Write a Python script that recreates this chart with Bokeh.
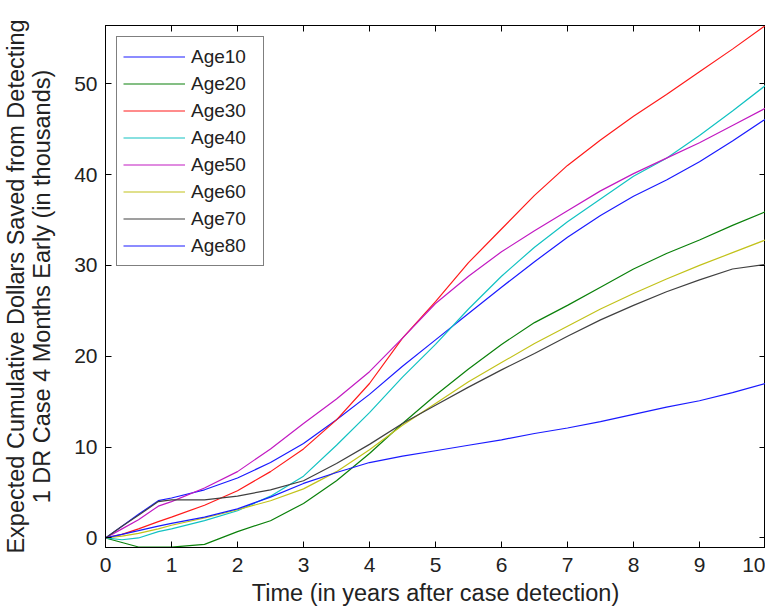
from bokeh.plotting import figure
from bokeh.models import Range1d, LinearAxis, FixedTicker, Legend, LegendItem
from bokeh.embed import file_html
from bokeh.resources import INLINE

# ---- data ----
t = [0, 0.25, 0.5, 0.8, 1, 1.5, 2, 2.5, 3, 3.5, 4, 4.5, 5, 5.5, 6, 6.5, 7, 7.5, 8, 8.5, 9, 9.5, 10]

age10 = [0, 1.3, 2.6, 4.1, 4.4, 5.3, 6.6, 8.3, 10.4, 13.0, 15.8, 18.9, 21.8, 24.7, 27.6, 30.4, 33.1, 35.5, 37.6, 39.4, 41.4, 43.7, 46.1]
age20 = [0, -0.5, -1.0, -1.0, -1.0, -0.7, 0.7, 1.9, 3.8, 6.3, 9.3, 12.6, 15.7, 18.6, 21.3, 23.7, 25.6, 27.6, 29.6, 31.3, 32.8, 34.4, 35.9]
age30 = [0, 0.4, 1.0, 1.8, 2.3, 3.6, 5.2, 7.3, 9.8, 13.0, 17.0, 22.0, 26.0, 30.3, 34.0, 37.7, 41.0, 43.8, 46.4, 48.8, 51.3, 53.8, 56.4]
age40 = [0, -0.2, 0.0, 0.7, 1.0, 1.9, 3.0, 4.6, 6.8, 10.2, 13.8, 17.7, 21.3, 25.2, 28.8, 32.0, 34.8, 37.3, 39.8, 41.8, 44.3, 47.0, 49.8]
age50 = [0, 1.0, 2.0, 3.5, 4.0, 5.5, 7.3, 9.8, 12.6, 15.3, 18.3, 22.0, 25.8, 28.8, 31.5, 33.8, 36.0, 38.2, 40.1, 41.8, 43.5, 45.4, 47.3]
age60 = [0, 0.2, 0.5, 1.0, 1.4, 2.2, 3.1, 4.1, 5.4, 7.3, 9.7, 12.4, 14.8, 17.2, 19.3, 21.4, 23.3, 25.2, 26.9, 28.5, 30.0, 31.4, 32.8]
age70 = [0, 1.3, 2.5, 4.0, 4.2, 4.2, 4.6, 5.3, 6.3, 8.2, 10.3, 12.6, 14.6, 16.6, 18.5, 20.3, 22.2, 24.0, 25.6, 27.1, 28.4, 29.6, 30.1]
age80 = [0, 0.4, 0.8, 1.3, 1.6, 2.3, 3.2, 4.5, 6.0, 7.2, 8.3, 9.0, 9.6, 10.2, 10.8, 11.5, 12.1, 12.8, 13.6, 14.4, 15.1, 16.0, 17.0]

series_names = ["Age10", "Age20", "Age30", "Age40", "Age50", "Age60", "Age70", "Age80"]
series_values = [age10, age20, age30, age40, age50, age60, age70, age80]
series_colors = ["#1a1aff", "#0a800a", "#ff1a1a", "#12c2c2", "#c21ac2", "#c2c21a", "#404040", "#1a1aff"]

x_ticks = [0, 1, 2, 3, 4, 5, 6, 7, 8, 9, 10]
y_ticks = [0, 10, 20, 30, 40, 50]

FONT = "Liberation Sans"
TXT = "#222222"

p = figure(width=765, height=608,
           x_range=Range1d(0, 10), y_range=Range1d(-1.05, 56.4),
           output_backend="svg", toolbar_location=None,
           min_border_left=100, min_border_right=0,
           min_border_top=25, min_border_bottom=61,
           x_axis_label="Time (in years after case detection)",
           y_axis_label="Expected Cumulative Dollars Saved from Detecting\n1 DR Case 4 Months Early (in thousands)")

p.xgrid.visible = False
p.ygrid.visible = False
p.outline_line_color = "black"
p.outline_line_width = 1
p.background_fill_color = "white"
p.border_fill_color = "white"

for ax, ticks in ((p.xaxis[0], x_ticks), (p.yaxis[0], y_ticks)):
    ax.ticker = FixedTicker(ticks=ticks)
    ax.minor_tick_line_color = None
    ax.major_tick_in = 6
    ax.major_tick_out = 0
    ax.axis_line_color = "black"
    ax.major_tick_line_color = "black"
    ax.major_label_text_font = FONT
    ax.major_label_text_font_size = "21px"
    ax.major_label_text_color = TXT
    ax.axis_label_text_font = FONT
    ax.axis_label_text_font_size = "23.5px"
    ax.axis_label_text_font_style = "normal"
    ax.axis_label_text_color = TXT

p.xaxis[0].major_label_standoff = 10
p.xaxis[0].axis_label_standoff = 5
p.yaxis[0].major_label_standoff = 8
p.yaxis[0].axis_label_standoff = 16
p.yaxis[0].axis_label_text_line_height = 1.0

# mirrored ticks on top and right (box on)
top = LinearAxis(ticker=FixedTicker(ticks=x_ticks))
right = LinearAxis(ticker=FixedTicker(ticks=y_ticks))
for ax in (top, right):
    ax.major_tick_in = 6
    ax.major_tick_out = 0
    ax.minor_tick_line_color = None
    ax.major_label_text_font_size = "0px"
    ax.major_label_standoff = 0
    ax.axis_line_color = "black"
    ax.major_tick_line_color = "black"
p.add_layout(top, "above")
p.add_layout(right, "right")

items = []
for name, vals, col in zip(series_names, series_values, series_colors):
    r = p.line(t, vals, line_color=col, line_width=1.2)
    items.append(LegendItem(label=name, renderers=[r]))

legend = Legend(items=items, location="top_left")
legend.margin = 11
legend.padding = 6
legend.spacing = 0
legend.glyph_width = 62
legend.glyph_height = 27
legend.label_height = 27
legend.label_width = 66
legend.label_standoff = 6
legend.label_text_font = FONT
legend.label_text_font_size = "19px"
legend.label_text_color = TXT
legend.border_line_color = "black"
legend.border_line_width = 1
legend.background_fill_color = "white"
legend.background_fill_alpha = 1.0
p.add_layout(legend)

open("out.html", "w").write(file_html(p, INLINE))
